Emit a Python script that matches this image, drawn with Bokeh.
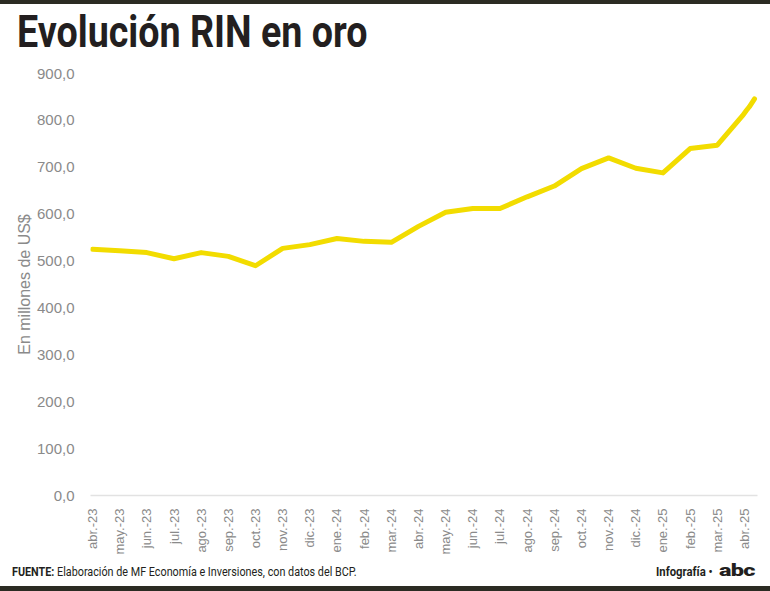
from bokeh.plotting import figure
from bokeh.layouts import column
from bokeh.models import Range1d, FixedTicker, Div
from bokeh.embed import file_html
from bokeh.resources import INLINE

# ---- data ----
month_labels = ["abr.-23", "may.-23", "jun.-23", "jul.-23", "ago.-23", "sep.-23",
                "oct.-23", "nov.-23", "dic.-23", "ene.-24", "feb.-24", "mar.-24",
                "abr.-24", "may.-24", "jun.-24", "jul.-24", "ago.-24", "sep.-24",
                "oct.-24", "nov.-24", "dic.-24", "ene.-25", "feb.-25", "mar.-25",
                "abr.-25"]
month_pos = list(range(len(month_labels)))

series_x = [0, 1, 2, 3, 4, 5, 6, 7, 8, 9, 10, 11, 12, 13, 14, 15, 16, 17, 18,
            19, 20, 21, 22, 23, 23.93, 24.07, 24.18, 24.37]
series_y = [525, 522, 518, 505, 518, 510, 490, 527, 535, 548, 542, 540, 574,
            604, 612, 612, 637, 660, 697, 720, 698, 688, 740, 747, 810, 821,
            829, 846]

y_ticks = [0, 100, 200, 300, 400, 500, 600, 700, 800, 900]
y_tick_labels = ["0,0", "100,0", "200,0", "300,0", "400,0", "500,0", "600,0",
                 "700,0", "800,0", "900,0"]

title_text = "Evolución RIN en oro"
y_label = "En millones de US$"
source_bold = "FUENTE:"
source_text = "Elaboración de MF Economía e Inversiones, con datos del BCP."
credit_text = "Infografía •"
logo_text = "abc"

DARK = "#231f20"
RULE = "#2b2b23"
GREY = "#8a8a8a"
W = 770
HEAD_H, MAIN_H, FOOT_H = 60, 500, 31

# ---- header (HTML) ----
head_html = (
    f'<div style="position:relative;width:{W}px;height:{HEAD_H}px;margin:0;padding:0;">'
    f'<div style="position:absolute;left:0;top:0;width:{W}px;height:4px;background:{RULE};"></div>'
    f'<div style="position:absolute;left:17px;top:10px;white-space:nowrap;'
    f'font-family:Roboto;font-weight:bold;font-size:44px;line-height:44px;color:{DARK};'
    f'transform:scaleX(0.855);transform-origin:left top;">{title_text}</div>'
    f'</div>'
)
head = Div(text=head_html, width=W, height=HEAD_H, margin=0)

# ---- main chart ----
FL, FR, FT = 90, 13, 13
FB = (HEAD_H + MAIN_H) - 495

p = figure(width=W, height=MAIN_H, output_backend="svg", toolbar_location=None,
           x_range=Range1d(-0.074, 24.48), y_range=Range1d(0, 900),
           min_border_left=FL, min_border_right=FR, min_border_top=FT,
           min_border_bottom=FB, margin=0)
p.outline_line_color = None
p.grid.visible = False
p.background_fill_color = "white"
p.border_fill_color = "white"

p.line(series_x, series_y, line_color="#f2dc00", line_width=5,
       line_join="round", line_cap="round")

xa = p.xaxis[0]
xa.ticker = FixedTicker(ticks=month_pos)
xa.major_label_overrides = {i: s for i, s in zip(month_pos, month_labels)}
xa.major_label_orientation = 1.5707963
xa.axis_line_color = "#e2e2e2"
xa.axis_line_width = 1.5
xa.major_tick_line_color = None
xa.minor_tick_line_color = None
xa.major_label_standoff = 7
xa.major_label_text_font = "Liberation Sans"
xa.major_label_text_font_size = "13px"
xa.major_label_text_color = GREY

ya = p.yaxis[0]
ya.ticker = FixedTicker(ticks=y_ticks)
ya.major_label_overrides = {v: s for v, s in zip(y_ticks, y_tick_labels)}
ya.axis_line_color = None
ya.major_tick_line_color = None
ya.minor_tick_line_color = None
ya.major_label_standoff = 10
ya.major_label_text_font = "Liberation Sans"
ya.major_label_text_font_size = "15px"
ya.major_label_text_color = GREY
ya.axis_label = y_label
ya.axis_label_text_font = "Liberation Sans"
ya.axis_label_text_font_style = "normal"
ya.axis_label_text_font_size = "16px"
ya.axis_label_text_color = GREY
ya.axis_label_standoff = 1

# ---- footer (HTML) ----
foot_html = (
    f'<div style="position:relative;width:{W}px;height:{FOOT_H}px;margin:0;padding:0;">'
    f'<div style="position:absolute;left:12px;top:5px;white-space:nowrap;'
    f'font-family:Roboto;font-size:13px;line-height:13px;color:{DARK};'
    f'transform:scaleX(0.83);transform-origin:left top;">'
    f'<b>{source_bold}</b> {source_text}</div>'
    f'<div style="position:absolute;left:656px;top:5px;white-space:nowrap;'
    f'font-family:Roboto;font-weight:bold;font-size:13px;line-height:13px;color:{DARK};'
    f'transform:scaleX(0.87);transform-origin:left top;">{credit_text}</div>'
    f'<div style="position:absolute;left:719px;top:2px;white-space:nowrap;'
    f'font-family:Roboto;font-weight:900;font-size:17px;line-height:17px;color:{DARK};'
    f'letter-spacing:-0.5px;transform:scaleX(1.38);transform-origin:left top;">{logo_text}</div>'
    f'<div style="position:absolute;left:0;top:26px;width:{W}px;height:5px;background:{RULE};"></div>'
    f'</div>'
)
foot = Div(text=foot_html, width=W, height=FOOT_H, margin=0)

layout = column(head, p, foot, spacing=0, margin=0)
open("out.html", "w").write(file_html(layout, INLINE))
